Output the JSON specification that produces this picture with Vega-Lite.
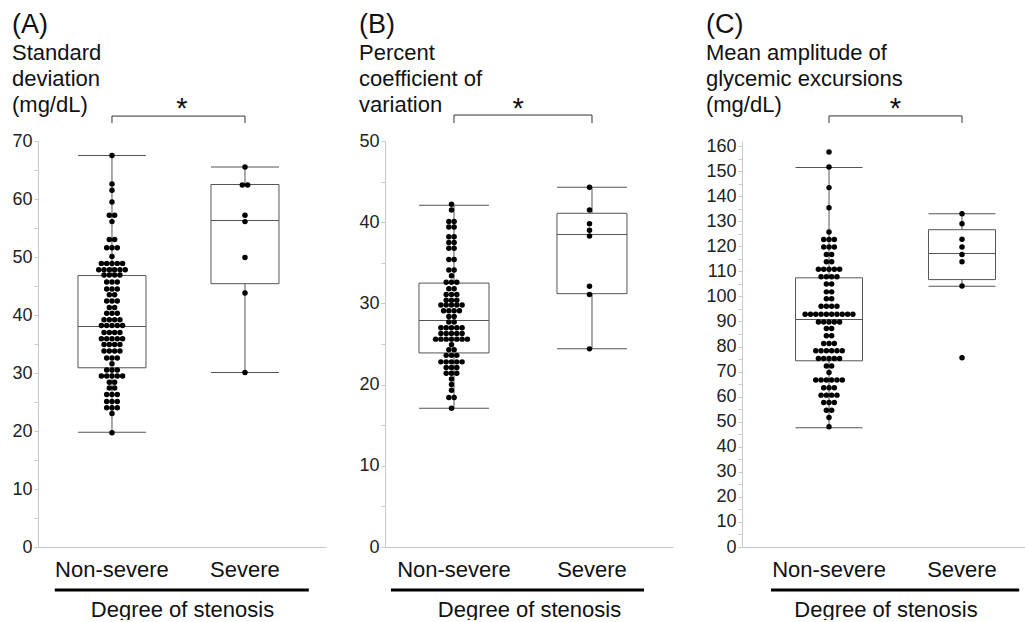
{
"$schema":"https://vega.github.io/schema/vega-lite/v6.json",
"background":"white",
"padding":{"left":11,"top":10,"right":0,"bottom":0},
"spacing":32,
"config":{"font":"Liberation Sans","view":{"stroke":null},
 "tick":{"opacity":1},
 "title":{"anchor":"start","frame":"bounds","fontSize":27,"fontWeight":"normal","subtitleFontSize":22,"subtitleLineHeight":26,"subtitlePadding":4,"offset":-22,"color":"#111","subtitleColor":"#111","font":"Liberation Sans","subtitleFont":"Liberation Sans"},
 "axisY":{"title":null,"grid":false,"domainColor":"#c8c8c8","tickColor":"#c8c8c8","tickSize":4,"tickCount":50,"labelFontSize":18,"labelColor":"#222","labelPadding":2,"labelOverlap":false,"labelExpr":"datum.value % 10 == 0 ? datum.label : ''"},
 "axisX":{"labelAngle":0,"ticks":false,"domainColor":"#c8c8c8","labelFontSize":22,"labelPadding":12,"labelColor":"#111","titleFontSize":22,"titleFontWeight":"normal","titlePadding":19,"titleColor":"#111"}
},
"datasets":{
"boxA":[{"g":"Non-severe","lo":19.8,"q1":30.9,"med":38.0,"q3":46.8,"hi":67.5},{"g":"Severe","lo":30.1,"q1":45.4,"med":56.3,"q3":62.5,"hi":65.5}],
"boxB":[{"g":"Non-severe","lo":17.1,"q1":23.9,"med":27.9,"q3":32.5,"hi":42.1},{"g":"Severe","lo":24.4,"q1":31.2,"med":38.5,"q3":41.1,"hi":44.3}],
"boxC":[{"g":"Non-severe","lo":47.6,"q1":74.3,"med":90.8,"q3":107.4,"hi":151.4},{"g":"Severe","lo":104.0,"q1":106.7,"med":117.1,"q3":126.6,"hi":133.0}],
"brA":[{"g":"Non-severe","y":73.1,"o":1},{"g":"Non-severe","y":74.3,"o":2},{"g":"Severe","y":74.3,"o":3},{"g":"Severe","y":73.1,"o":4}],
"brB":[{"g":"Non-severe","y":52.2,"o":1},{"g":"Non-severe","y":53.2,"o":2},{"g":"Severe","y":53.2,"o":3},{"g":"Severe","y":52.2,"o":4}],
"brC":[{"g":"Non-severe","y":169.2,"o":1},{"g":"Non-severe","y":172,"o":2},{"g":"Severe","y":172,"o":3},{"g":"Severe","y":169.2,"o":4}],
"sigA":[{"g":"Non-severe","g2":"Severe","star":74.0,"under":-7.4}],
"sigB":[{"g":"Non-severe","g2":"Severe","star":52.8,"under":-5.3}],
"sigC":[{"g":"Non-severe","g2":"Severe","star":171.2,"under":-17.2}],
"ptsA":[
{"g":"Non-severe","v":67.5},{"g":"Non-severe","v":62.6},{"g":"Non-severe","v":61.5},{"g":"Non-severe","v":59.5},
{"g":"Non-severe","v":57.2},{"g":"Non-severe","v":57.2},{"g":"Non-severe","v":56.1},
{"g":"Non-severe","v":53.0},{"g":"Non-severe","v":53.0},
{"g":"Non-severe","v":51.6},{"g":"Non-severe","v":51.6},{"g":"Non-severe","v":51.6},
{"g":"Non-severe","v":50.1},
{"g":"Non-severe","v":48.9},{"g":"Non-severe","v":48.9},{"g":"Non-severe","v":48.9},{"g":"Non-severe","v":48.9},{"g":"Non-severe","v":48.9},
{"g":"Non-severe","v":47.8},{"g":"Non-severe","v":47.8},{"g":"Non-severe","v":47.8},{"g":"Non-severe","v":47.8},{"g":"Non-severe","v":47.8},{"g":"Non-severe","v":47.8},
{"g":"Non-severe","v":46.9},{"g":"Non-severe","v":46.9},{"g":"Non-severe","v":46.9},{"g":"Non-severe","v":46.9},
{"g":"Non-severe","v":45.7},{"g":"Non-severe","v":45.7},{"g":"Non-severe","v":45.7},
{"g":"Non-severe","v":44.5},{"g":"Non-severe","v":44.5},{"g":"Non-severe","v":44.5},
{"g":"Non-severe","v":43.5},{"g":"Non-severe","v":43.5},
{"g":"Non-severe","v":42.4},{"g":"Non-severe","v":42.4},{"g":"Non-severe","v":42.4},
{"g":"Non-severe","v":41.3},{"g":"Non-severe","v":41.3},
{"g":"Non-severe","v":40.3},{"g":"Non-severe","v":40.3},{"g":"Non-severe","v":40.3},
{"g":"Non-severe","v":39.2},{"g":"Non-severe","v":39.2},{"g":"Non-severe","v":39.2},{"g":"Non-severe","v":39.2},
{"g":"Non-severe","v":38.2},{"g":"Non-severe","v":38.2},{"g":"Non-severe","v":38.2},{"g":"Non-severe","v":38.2},{"g":"Non-severe","v":38.2},
{"g":"Non-severe","v":37.0},{"g":"Non-severe","v":37.0},{"g":"Non-severe","v":37.0},{"g":"Non-severe","v":37.0},
{"g":"Non-severe","v":35.9},{"g":"Non-severe","v":35.9},{"g":"Non-severe","v":35.9},{"g":"Non-severe","v":35.9},{"g":"Non-severe","v":35.9},
{"g":"Non-severe","v":34.9},{"g":"Non-severe","v":34.9},{"g":"Non-severe","v":34.9},{"g":"Non-severe","v":34.9},
{"g":"Non-severe","v":33.8},{"g":"Non-severe","v":33.8},{"g":"Non-severe","v":33.8},{"g":"Non-severe","v":33.8},
{"g":"Non-severe","v":32.6},{"g":"Non-severe","v":32.6},{"g":"Non-severe","v":32.6},
{"g":"Non-severe","v":31.6},
{"g":"Non-severe","v":30.5},{"g":"Non-severe","v":30.5},{"g":"Non-severe","v":30.5},
{"g":"Non-severe","v":29.5},{"g":"Non-severe","v":29.5},{"g":"Non-severe","v":29.5},{"g":"Non-severe","v":29.5},{"g":"Non-severe","v":29.5},
{"g":"Non-severe","v":28.4},{"g":"Non-severe","v":28.4},
{"g":"Non-severe","v":27.4},{"g":"Non-severe","v":27.4},
{"g":"Non-severe","v":26.3},{"g":"Non-severe","v":26.3},{"g":"Non-severe","v":26.3},
{"g":"Non-severe","v":25.1},{"g":"Non-severe","v":25.1},{"g":"Non-severe","v":25.1},
{"g":"Non-severe","v":24.0},{"g":"Non-severe","v":24.0},{"g":"Non-severe","v":24.0},
{"g":"Non-severe","v":23.0},{"g":"Non-severe","v":19.7},
{"g":"Severe","v":65.5},{"g":"Severe","v":62.4},{"g":"Severe","v":62.4},{"g":"Severe","v":57.2},{"g":"Severe","v":56.1},{"g":"Severe","v":49.9},{"g":"Severe","v":43.8},{"g":"Severe","v":30.1}
],
"ptsB":[
{"g":"Non-severe","v":42.2},{"g":"Non-severe","v":41.5},
{"g":"Non-severe","v":40.1},{"g":"Non-severe","v":40.1},
{"g":"Non-severe","v":39.4},{"g":"Non-severe","v":39.4},
{"g":"Non-severe","v":38.2},{"g":"Non-severe","v":38.2},
{"g":"Non-severe","v":37.5},{"g":"Non-severe","v":37.5},
{"g":"Non-severe","v":36.8},{"g":"Non-severe","v":36.8},
{"g":"Non-severe","v":35.4},{"g":"Non-severe","v":35.4},
{"g":"Non-severe","v":34.1},{"g":"Non-severe","v":34.1},
{"g":"Non-severe","v":33.4},
{"g":"Non-severe","v":32.6},{"g":"Non-severe","v":32.6},{"g":"Non-severe","v":32.6},
{"g":"Non-severe","v":31.8},{"g":"Non-severe","v":31.8},
{"g":"Non-severe","v":31.1},{"g":"Non-severe","v":31.1},{"g":"Non-severe","v":31.1},
{"g":"Non-severe","v":30.4},{"g":"Non-severe","v":30.4},{"g":"Non-severe","v":30.4},
{"g":"Non-severe","v":29.8},{"g":"Non-severe","v":29.8},{"g":"Non-severe","v":29.8},{"g":"Non-severe","v":29.8},{"g":"Non-severe","v":29.8},
{"g":"Non-severe","v":29.1},{"g":"Non-severe","v":29.1},{"g":"Non-severe","v":29.1},{"g":"Non-severe","v":29.1},
{"g":"Non-severe","v":28.4},{"g":"Non-severe","v":28.4},
{"g":"Non-severe","v":27.7},{"g":"Non-severe","v":27.7},
{"g":"Non-severe","v":27.0},{"g":"Non-severe","v":27.0},{"g":"Non-severe","v":27.0},{"g":"Non-severe","v":27.0},{"g":"Non-severe","v":27.0},
{"g":"Non-severe","v":26.3},{"g":"Non-severe","v":26.3},{"g":"Non-severe","v":26.3},{"g":"Non-severe","v":26.3},{"g":"Non-severe","v":26.3},
{"g":"Non-severe","v":25.6},{"g":"Non-severe","v":25.6},{"g":"Non-severe","v":25.6},{"g":"Non-severe","v":25.6},{"g":"Non-severe","v":25.6},{"g":"Non-severe","v":25.6},{"g":"Non-severe","v":25.6},
{"g":"Non-severe","v":24.9},
{"g":"Non-severe","v":24.3},{"g":"Non-severe","v":24.3},
{"g":"Non-severe","v":23.6},{"g":"Non-severe","v":23.6},{"g":"Non-severe","v":23.6},
{"g":"Non-severe","v":22.8},{"g":"Non-severe","v":22.8},{"g":"Non-severe","v":22.8},{"g":"Non-severe","v":22.8},{"g":"Non-severe","v":22.8},
{"g":"Non-severe","v":22.1},{"g":"Non-severe","v":22.1},{"g":"Non-severe","v":22.1},
{"g":"Non-severe","v":21.4},{"g":"Non-severe","v":21.4},{"g":"Non-severe","v":21.4},
{"g":"Non-severe","v":20.7},{"g":"Non-severe","v":20.0},{"g":"Non-severe","v":19.3},
{"g":"Non-severe","v":18.4},{"g":"Non-severe","v":18.4},
{"g":"Non-severe","v":17.1},
{"g":"Severe","v":44.3},{"g":"Severe","v":41.5},{"g":"Severe","v":39.8},{"g":"Severe","v":39.0},{"g":"Severe","v":38.3},{"g":"Severe","v":32.1},{"g":"Severe","v":31.1},{"g":"Severe","v":24.4}
],
"ptsC":[
{"g":"Non-severe","v":157.6},{"g":"Non-severe","v":151.6},{"g":"Non-severe","v":143.4},{"g":"Non-severe","v":135.4},{"g":"Non-severe","v":125.7},
{"g":"Non-severe","v":122.7},{"g":"Non-severe","v":122.7},{"g":"Non-severe","v":122.7},
{"g":"Non-severe","v":119.7},{"g":"Non-severe","v":119.7},{"g":"Non-severe","v":119.7},
{"g":"Non-severe","v":116.7},{"g":"Non-severe","v":116.7},
{"g":"Non-severe","v":113.8},{"g":"Non-severe","v":113.8},
{"g":"Non-severe","v":110.8},{"g":"Non-severe","v":110.8},{"g":"Non-severe","v":110.8},{"g":"Non-severe","v":110.8},{"g":"Non-severe","v":110.8},
{"g":"Non-severe","v":107.8},{"g":"Non-severe","v":107.8},{"g":"Non-severe","v":107.8},{"g":"Non-severe","v":107.8},
{"g":"Non-severe","v":104.9},{"g":"Non-severe","v":104.9},
{"g":"Non-severe","v":101.8},{"g":"Non-severe","v":101.8},
{"g":"Non-severe","v":99.1},{"g":"Non-severe","v":99.1},
{"g":"Non-severe","v":96.1},{"g":"Non-severe","v":96.1},{"g":"Non-severe","v":96.1},{"g":"Non-severe","v":96.1},
{"g":"Non-severe","v":92.9},{"g":"Non-severe","v":92.9},{"g":"Non-severe","v":92.9},{"g":"Non-severe","v":92.9},{"g":"Non-severe","v":92.9},{"g":"Non-severe","v":92.9},{"g":"Non-severe","v":92.9},{"g":"Non-severe","v":92.9},{"g":"Non-severe","v":92.9},{"g":"Non-severe","v":92.9},
{"g":"Non-severe","v":89.8},{"g":"Non-severe","v":89.8},{"g":"Non-severe","v":89.8},{"g":"Non-severe","v":89.8},{"g":"Non-severe","v":89.8},
{"g":"Non-severe","v":87.2},{"g":"Non-severe","v":87.2},
{"g":"Non-severe","v":84.3},{"g":"Non-severe","v":84.3},
{"g":"Non-severe","v":81.2},{"g":"Non-severe","v":81.2},{"g":"Non-severe","v":81.2},
{"g":"Non-severe","v":78.3},{"g":"Non-severe","v":78.3},{"g":"Non-severe","v":78.3},{"g":"Non-severe","v":78.3},{"g":"Non-severe","v":78.3},{"g":"Non-severe","v":78.3},
{"g":"Non-severe","v":75.2},{"g":"Non-severe","v":75.2},{"g":"Non-severe","v":75.2},{"g":"Non-severe","v":75.2},{"g":"Non-severe","v":75.2},
{"g":"Non-severe","v":72.2},{"g":"Non-severe","v":72.2},
{"g":"Non-severe","v":69.6},
{"g":"Non-severe","v":66.6},{"g":"Non-severe","v":66.6},{"g":"Non-severe","v":66.6},{"g":"Non-severe","v":66.6},{"g":"Non-severe","v":66.6},{"g":"Non-severe","v":66.6},
{"g":"Non-severe","v":63.5},{"g":"Non-severe","v":63.5},{"g":"Non-severe","v":63.5},
{"g":"Non-severe","v":60.6},{"g":"Non-severe","v":60.6},{"g":"Non-severe","v":60.6},{"g":"Non-severe","v":60.6},
{"g":"Non-severe","v":57.7},{"g":"Non-severe","v":57.7},{"g":"Non-severe","v":57.7},
{"g":"Non-severe","v":54.6},{"g":"Non-severe","v":54.6},
{"g":"Non-severe","v":51.7},{"g":"Non-severe","v":48.0},
{"g":"Severe","v":133.0},{"g":"Severe","v":129.0},{"g":"Severe","v":122.8},{"g":"Severe","v":119.7},{"g":"Severe","v":116.7},{"g":"Severe","v":113.8},{"g":"Severe","v":104.1},{"g":"Severe","v":75.5}
]
},
"hconcat":[
{"width":288,"height":406,
 "title":{"text":"(A)","subtitle":["Standard","deviation","(mg/dL)"]},
 "layer":[
  {"data":{"name":"boxA"},"mark":{"type":"rule","color":"#555"},
   "encoding":{"x":{"field":"g","type":"nominal","scale":{"type":"band","domain":["Non-severe","Severe"],"paddingInner":0,"paddingOuter":0.0827,"align":0.34},"axis":{"title":"Degree of stenosis"}},
    "y":{"field":"lo","type":"quantitative","scale":{"domain":[0,70],"nice":false},"axis":{"values":[0,5,10,15,20,25,30,35,40,45,50,55,60,65,70],"tickCount":50,"labelOverlap":false}},"y2":{"field":"hi"}}},
  {"data":{"name":"boxA"},"mark":{"type":"bar","fill":"white","stroke":"#555","strokeWidth":1,"width":68},
   "encoding":{"x":{"field":"g","type":"nominal"},"y":{"field":"q1","type":"quantitative"},"y2":{"field":"q3"}}},
  {"data":{"name":"boxA"},"mark":{"type":"tick","color":"#555","size":68,"thickness":1},
   "encoding":{"x":{"field":"g","type":"nominal"},"y":{"field":"med","type":"quantitative"}}},
  {"data":{"name":"boxA"},"mark":{"type":"tick","color":"#555","size":68,"thickness":1},
   "encoding":{"x":{"field":"g","type":"nominal"},"y":{"field":"lo","type":"quantitative"}}},
  {"data":{"name":"boxA"},"mark":{"type":"tick","color":"#555","size":68,"thickness":1},
   "encoding":{"x":{"field":"g","type":"nominal"},"y":{"field":"hi","type":"quantitative"}}},
  {"data":{"name":"ptsA"},
   "transform":[{"window":[{"op":"row_number","as":"rn"},{"op":"count","as":"cnt"}],"groupby":["g","v"],"frame":[null,null]},{"calculate":"datum.rn - (datum.cnt + 1) / 2","as":"off"}],
   "mark":{"type":"circle","color":"black","opacity":1,"size":30},
   "encoding":{"x":{"field":"g","type":"nominal"},"xOffset":{"field":"off","type":"quantitative","scale":{"domain":[-12.09,12.09]}},"y":{"field":"v","type":"quantitative"}}},
  {"data":{"name":"brA"},"mark":{"type":"line","color":"#333","strokeWidth":1},"encoding":{"x":{"field":"g","type":"nominal"},"y":{"field":"y","type":"quantitative"},"order":{"field":"o","type":"quantitative"}}},
  {"data":{"name":"sigA"},"mark":{"type":"text","text":"*","fontSize":29,"baseline":"alphabetic","color":"#111"},"encoding":{"x":{"field":"g","type":"nominal","bandPosition":1.026},"y":{"field":"star","type":"quantitative"}}},
  {"data":{"name":"sigA"},"mark":{"type":"rule","color":"black","strokeWidth":3},"encoding":{"x":{"field":"g","type":"nominal","bandPosition":0.07},"x2":{"field":"g2","bandPosition":0.98},"y":{"field":"under","type":"quantitative"}}}
 ]},
{"width":288,"height":406,
 "title":{"text":"(B)","subtitle":["Percent","coefficient of","variation"]},
 "layer":[
  {"data":{"name":"boxB"},"mark":{"type":"rule","color":"#555"},
   "encoding":{"x":{"field":"g","type":"nominal","scale":{"type":"band","domain":["Non-severe","Severe"],"paddingInner":0,"paddingOuter":0.0435,"align":0},"axis":{"title":"Degree of stenosis"}},
    "y":{"field":"lo","type":"quantitative","scale":{"domain":[0,50],"nice":false},"axis":{"values":[0,5,10,15,20,25,30,35,40,45,50],"tickCount":50,"labelOverlap":false}},"y2":{"field":"hi"}}},
  {"data":{"name":"boxB"},"mark":{"type":"bar","fill":"white","stroke":"#555","strokeWidth":1,"width":70},
   "encoding":{"x":{"field":"g","type":"nominal"},"y":{"field":"q1","type":"quantitative"},"y2":{"field":"q3"}}},
  {"data":{"name":"boxB"},"mark":{"type":"tick","color":"#555","size":70,"thickness":1},
   "encoding":{"x":{"field":"g","type":"nominal"},"y":{"field":"med","type":"quantitative"}}},
  {"data":{"name":"boxB"},"mark":{"type":"tick","color":"#555","size":70,"thickness":1},
   "encoding":{"x":{"field":"g","type":"nominal"},"y":{"field":"lo","type":"quantitative"}}},
  {"data":{"name":"boxB"},"mark":{"type":"tick","color":"#555","size":70,"thickness":1},
   "encoding":{"x":{"field":"g","type":"nominal"},"y":{"field":"hi","type":"quantitative"}}},
  {"data":{"name":"ptsB"},
   "transform":[{"window":[{"op":"row_number","as":"rn"},{"op":"count","as":"cnt"}],"groupby":["g","v"],"frame":[null,null]},{"calculate":"datum.rn - (datum.cnt + 1) / 2","as":"off"}],
   "mark":{"type":"circle","color":"black","opacity":1,"size":30},
   "encoding":{"x":{"field":"g","type":"nominal"},"xOffset":{"field":"off","type":"quantitative","scale":{"domain":[-12.55,12.55]}},"y":{"field":"v","type":"quantitative"}}},
  {"data":{"name":"brB"},"mark":{"type":"line","color":"#333","strokeWidth":1},"encoding":{"x":{"field":"g","type":"nominal"},"y":{"field":"y","type":"quantitative"},"order":{"field":"o","type":"quantitative"}}},
  {"data":{"name":"sigB"},"mark":{"type":"text","text":"*","fontSize":29,"baseline":"alphabetic","color":"#111"},"encoding":{"x":{"field":"g","type":"nominal","bandPosition":0.964},"y":{"field":"star","type":"quantitative"}}},
  {"data":{"name":"sigB"},"mark":{"type":"rule","color":"black","strokeWidth":3},"encoding":{"x":{"field":"g","type":"nominal","bandPosition":0.043},"x2":{"field":"g2","bandPosition":0.877},"y":{"field":"under","type":"quantitative"}}}
 ]},
{"width":287,"height":406,
 "title":{"text":"(C)","subtitle":["Mean amplitude of","glycemic excursions","(mg/dL)"]},
 "layer":[
  {"data":{"name":"boxC"},"mark":{"type":"rule","color":"#555"},
   "encoding":{"x":{"field":"g","type":"nominal","scale":{"type":"band","domain":["Non-severe","Severe"],"paddingInner":0,"paddingOuter":0.079,"align":0.976},"axis":{"title":"Degree of stenosis"}},
    "y":{"field":"lo","type":"quantitative","scale":{"domain":[0,162],"nice":false},"axis":{"values":[0,5,10,15,20,25,30,35,40,45,50,55,60,65,70,75,80,85,90,95,100,105,110,115,120,125,130,135,140,145,150,155,160],"tickCount":50,"labelOverlap":false}},"y2":{"field":"hi"}}},
  {"data":{"name":"boxC"},"mark":{"type":"bar","fill":"white","stroke":"#555","strokeWidth":1,"width":67},
   "encoding":{"x":{"field":"g","type":"nominal"},"y":{"field":"q1","type":"quantitative"},"y2":{"field":"q3"}}},
  {"data":{"name":"boxC"},"mark":{"type":"tick","color":"#555","size":67,"thickness":1},
   "encoding":{"x":{"field":"g","type":"nominal"},"y":{"field":"med","type":"quantitative"}}},
  {"data":{"name":"boxC"},"mark":{"type":"tick","color":"#555","size":67,"thickness":1},
   "encoding":{"x":{"field":"g","type":"nominal"},"y":{"field":"lo","type":"quantitative"}}},
  {"data":{"name":"boxC"},"mark":{"type":"tick","color":"#555","size":67,"thickness":1},
   "encoding":{"x":{"field":"g","type":"nominal"},"y":{"field":"hi","type":"quantitative"}}},
  {"data":{"name":"ptsC"},
   "transform":[{"window":[{"op":"row_number","as":"rn"},{"op":"count","as":"cnt"}],"groupby":["g","v"],"frame":[null,null]},{"calculate":"datum.rn - (datum.cnt + 1) / 2","as":"off"}],
   "mark":{"type":"circle","color":"black","opacity":1,"size":30},
   "encoding":{"x":{"field":"g","type":"nominal"},"xOffset":{"field":"off","type":"quantitative","scale":{"domain":[-11.5,11.5]}},"y":{"field":"v","type":"quantitative"}}},
  {"data":{"name":"brC"},"mark":{"type":"line","color":"#333","strokeWidth":1},"encoding":{"x":{"field":"g","type":"nominal"},"y":{"field":"y","type":"quantitative"},"order":{"field":"o","type":"quantitative"}}},
  {"data":{"name":"sigC"},"mark":{"type":"text","text":"*","fontSize":29,"baseline":"alphabetic","color":"#111"},"encoding":{"x":{"field":"g","type":"nominal","bandPosition":1.0},"y":{"field":"star","type":"quantitative"}}},
  {"data":{"name":"sigC"},"mark":{"type":"rule","color":"black","strokeWidth":3},"encoding":{"x":{"field":"g","type":"nominal","bandPosition":0.064},"x2":{"field":"g2","bandPosition":0.93},"y":{"field":"under","type":"quantitative"}}}
 ]}
]
}
